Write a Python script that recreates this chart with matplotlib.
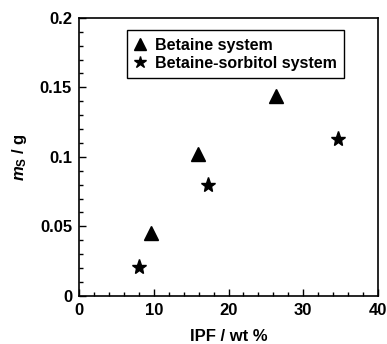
import matplotlib
matplotlib.use('Agg')
import matplotlib.pyplot as plt
from matplotlib.ticker import MultipleLocator, FuncFormatter

plt.rcParams['font.family'] = ['Liberation Sans', 'DejaVu Sans']
plt.rcParams['font.weight'] = 'bold'
plt.rcParams['mathtext.fontset'] = 'custom'
plt.rcParams['mathtext.rm'] = 'Liberation Sans:bold'
plt.rcParams['mathtext.it'] = 'Liberation Sans:italic:bold'

# Betaine system
betaine_ipf = [9.7, 15.9, 26.4]
betaine_ms = [0.045, 0.102, 0.144]

# Betaine-sorbitol system
sorbitol_ipf = [8.0, 17.3, 34.6]
sorbitol_ms = [0.021, 0.080, 0.113]

fig = plt.figure(figsize=(3.87, 3.44), dpi=100)
ax = fig.add_axes([0.204, 0.140, 0.773, 0.808])

ax.plot(betaine_ipf, betaine_ms, linestyle='none', marker='^', markersize=10,
        color='black', label='Betaine system')
ax.plot(sorbitol_ipf, sorbitol_ms, linestyle='none', marker='*', markersize=11,
        color='black', label='Betaine-sorbitol system')

ax.set_xlim(0, 40)
ax.set_ylim(0, 0.2)
ax.xaxis.set_major_locator(MultipleLocator(10))
ax.xaxis.set_minor_locator(MultipleLocator(2))
ax.yaxis.set_major_locator(MultipleLocator(0.05))
ax.yaxis.set_minor_locator(MultipleLocator(0.01))
ax.yaxis.set_major_formatter(FuncFormatter(lambda v, p: '%g' % round(v, 3)))

ax.tick_params(which='both', direction='in', top=False, right=False,
               labelsize=12, width=1)
ax.tick_params(which='major', length=5, pad=5)
ax.tick_params(which='minor', length=3)
for s in ax.spines.values():
    s.set_linewidth(1.2)

ax.set_xlabel('IPF / wt %', fontsize=12, fontweight='bold', labelpad=8)
ax.set_ylabel(r'$m_\mathrm{S}$ / g', fontsize=12, fontweight='bold', labelpad=8)

leg = ax.legend(loc='upper left', bbox_to_anchor=(0.16, 0.955), fancybox=False,
                edgecolor='black', framealpha=1, handlelength=0.8,
                handletextpad=0.5, borderpad=0.45, labelspacing=0.2,
                markerscale=0.85, borderaxespad=0,
                prop={'weight': 'bold', 'size': 11.5})
leg.get_frame().set_linewidth(1)

plt.savefig('out.png', dpi=100)
